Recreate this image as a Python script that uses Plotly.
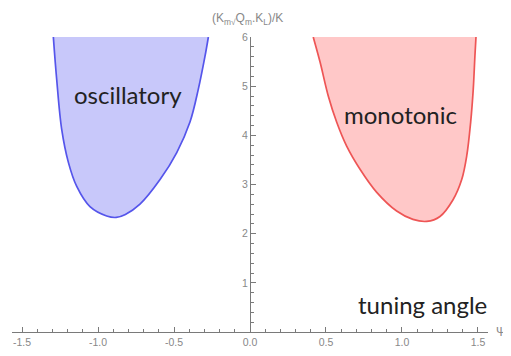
import plotly.graph_objects as go

# oscillatory boundary (blue)
blue_x = [-1.294, -1.272, -1.239, -1.195, -1.140, -1.053, -0.943, -0.880, -0.820,
          -0.724, -0.592, -0.482, -0.395, -0.340, -0.296, -0.274]
blue_y = [6.0, 5.14, 4.12, 3.45, 2.96, 2.55, 2.36, 2.33, 2.39,
          2.60, 3.10, 3.65, 4.27, 4.94, 5.61, 6.0]

# monotonic boundary (red)
red_x = [0.416, 0.461, 0.515, 0.570, 0.636, 0.724, 0.834, 0.965, 1.072, 1.163,
         1.250, 1.336, 1.393, 1.426, 1.452, 1.469, 1.480, 1.487]
red_y = [6.0, 5.49, 4.80, 4.27, 3.78, 3.31, 2.84, 2.46, 2.29, 2.25,
         2.35, 2.69, 3.10, 3.58, 4.27, 4.94, 5.62, 6.0]

x_tick_vals = [-1.5, -1.0, -0.5, 0.0, 0.5, 1.0, 1.5]
x_tick_text = ["-1.5", "-1.0", "-0.5", "0.0", "0.5", "1.0", "1.5"]
y_tick_vals = [1, 2, 3, 4, 5, 6]
y_tick_text = ["1", "2", "3", "4", "5", "6"]

axis_col = "#7a7a7a"
label_col = "#888888"

fig = go.Figure()
fig.add_trace(go.Scatter(x=blue_x, y=blue_y, mode="lines", fill="toself",
                         fillcolor="rgb(200,200,250)", line=dict(width=0, shape="spline"),
                         hoverinfo="skip", showlegend=False))
fig.add_trace(go.Scatter(x=blue_x, y=blue_y, mode="lines",
                         line=dict(color="rgb(85,85,235)", width=1.7, shape="spline"),
                         showlegend=False))
fig.add_trace(go.Scatter(x=red_x, y=red_y, mode="lines", fill="toself",
                         fillcolor="rgb(255,200,200)", line=dict(width=0, shape="spline"),
                         hoverinfo="skip", showlegend=False))
fig.add_trace(go.Scatter(x=red_x, y=red_y, mode="lines",
                         line=dict(color="rgb(238,85,85)", width=1.7, shape="spline"),
                         showlegend=False))

fig.update_layout(
    width=503, height=348,
    margin=dict(l=4, r=23, t=29, b=24),
    paper_bgcolor="white", plot_bgcolor="white",
    xaxis=dict(range=[-1.566, 1.566], showgrid=False, zeroline=False,
               showline=True, linecolor=axis_col, linewidth=1,
               tickmode="array", tickvals=x_tick_vals, ticktext=x_tick_text,
               ticks="inside", ticklen=5, tickcolor=axis_col,
               minor=dict(dtick=0.1, tick0=0, ticks="inside", ticklen=3, tickcolor=axis_col),
               tickfont=dict(family="Liberation Sans", size=10.5, color=label_col)),
    yaxis=dict(range=[0, 6], showgrid=False, zeroline=False,
               showline=True, linecolor=axis_col, linewidth=1,
               anchor="free", position=0.5,
               tickmode="array", tickvals=y_tick_vals, ticktext=y_tick_text,
               ticks="inside", ticklen=5, tickcolor=axis_col,
               minor=dict(dtick=0.2, tick0=0, ticks="inside", ticklen=3, tickcolor=axis_col),
               tickfont=dict(family="Liberation Sans", size=10.5, color=label_col)),
)

fig.add_annotation(x=0.494, y=1.095, xref="paper", yref="paper", showarrow=False,
                   text="(K<sub>m</sub><sub>√</sub>Q<sub>m</sub>.K<sub>L</sub>)/K",
                   font=dict(family="Liberation Sans", size=12, color=label_col))
fig.add_annotation(x=1.042, y=-0.03, xref="paper", yref="paper", showarrow=False, text="Ψ",
                   font=dict(family="Liberation Sans", size=12, color=label_col))
fig.add_annotation(x=-0.803, y=4.84, xref="x", yref="y", showarrow=False, text="oscillatory",
                   font=dict(family="Lato", size=24, color="#222222"))
fig.add_annotation(x=0.987, y=4.43, xref="x", yref="y", showarrow=False, text="monotonic",
                   font=dict(family="Lato", size=24, color="#222222"))
fig.add_annotation(x=1.138, y=0.55, xref="x", yref="y", showarrow=False, text="tuning angle",
                   font=dict(family="Lato", size=24, color="#222222"))

fig.write_html("out.html")
